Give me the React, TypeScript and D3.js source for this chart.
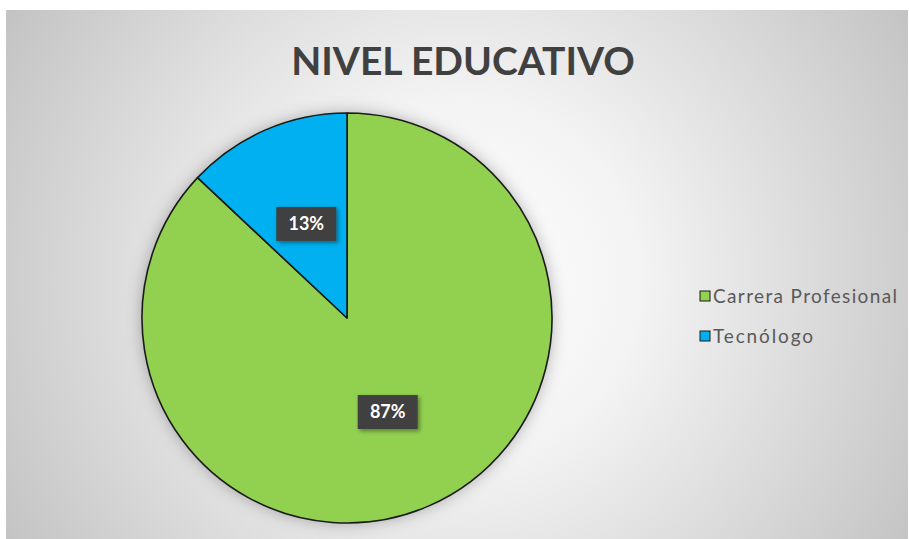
import React, { useEffect, useRef } from 'react';
import * as d3 from 'd3';

const categories = ['Carrera Profesional', 'Tecnólogo'];
const values = [87, 13];
const colors = ['#92D050', '#00B0F0'];
const title = 'NIVEL EDUCATIVO';

const W = 909;
const H = 539;

export default function App() {
    const ref = useRef<SVGSVGElement>(null);

    useEffect(() => {
        const svg = d3.select(ref.current);
        svg.selectAll('*').remove();
        svg.attr('width', W).attr('height', H);

        const defs = svg.append('defs');
        const grad = defs.append('radialGradient')
            .attr('id', 'bg')
            .attr('gradientUnits', 'userSpaceOnUse')
            .attr('cx', 460).attr('cy', 280).attr('r', 520);
        grad.append('stop').attr('offset', '0%').attr('stop-color', '#ffffff');
        grad.append('stop').attr('offset', '35%').attr('stop-color', '#f3f3f3');
        grad.append('stop').attr('offset', '100%').attr('stop-color', '#c4c4c4');

        const shadow = defs.append('filter').attr('id', 'pieShadow')
            .attr('x', '-20%').attr('y', '-20%').attr('width', '140%').attr('height', '140%');
        shadow.append('feDropShadow')
            .attr('dx', 0).attr('dy', 0).attr('stdDeviation', 8)
            .attr('flood-color', '#000').attr('flood-opacity', 0.3);

        const boxShadow = defs.append('filter').attr('id', 'boxShadow')
            .attr('x', '-30%').attr('y', '-30%').attr('width', '160%').attr('height', '160%');
        boxShadow.append('feDropShadow')
            .attr('dx', 2).attr('dy', 2).attr('stdDeviation', 2)
            .attr('flood-color', '#000').attr('flood-opacity', 0.4);

        svg.append('rect').attr('width', W).attr('height', H).attr('fill', '#fff');
        svg.append('rect')
            .attr('x', 6).attr('y', 10)
            .attr('width', 902).attr('height', 540)
            .attr('fill', 'url(#bg)');

        // title
        svg.append('text')
            .attr('x', 463).attr('y', 75)
            .attr('text-anchor', 'middle')
            .style('font-family', 'Lato')
            .style('font-weight', 700)
            .style('font-size', '39px')
            .style('fill', '#404040')
            .text(title);

        const cx = 347, cy = 318, r = 205;
        const data = categories.map((c, i) => ({ name: c, value: values[i], color: colors[i] }));
        const pie = d3.pie<any>().sort(null).value(d => d.value);
        const arc = d3.arc<any>().innerRadius(0).outerRadius(r);
        const arcs = pie(data);

        const g = svg.append('g').attr('transform', `translate(${cx},${cy})`);
        g.append('circle').attr('r', r).attr('fill', '#92D050').attr('filter', 'url(#pieShadow)');
        g.selectAll('path.slice')
            .data(arcs)
            .enter().append('path')
            .attr('class', 'slice')
            .attr('d', arc)
            .attr('fill', d => d.data.color)
            .attr('stroke', '#1b1b1b')
            .attr('stroke-width', 1.6)
            .attr('stroke-linejoin', 'round');

        // data labels at slice centroids
        const total = d3.sum(values);
        const lbl = g.selectAll('g.lbl')
            .data(arcs)
            .enter().append('g')
            .attr('class', 'lbl')
            .attr('transform', d => `translate(${arc.centroid(d)})`);
        lbl.append('rect')
            .attr('x', -30).attr('y', -17)
            .attr('width', 60).attr('height', 34)
            .attr('fill', '#404040')
            .attr('filter', 'url(#boxShadow)');
        lbl.append('text')
            .attr('text-anchor', 'middle')
            .attr('dy', '0.35em')
            .style('font-family', 'Lato')
            .style('font-weight', 700)
            .style('font-size', '18px')
            .style('fill', '#fff')
            .text(d => `${Math.round(d.data.value / total * 100)}%`);

        // legend
        const legend = svg.append('g').attr('transform', 'translate(700,296)');
        const item = legend.selectAll('g')
            .data(data)
            .enter().append('g')
            .attr('transform', (d, i) => `translate(0,${i * 40})`);
        item.append('rect')
            .attr('x', 0).attr('y', -5)
            .attr('width', 10).attr('height', 10)
            .attr('fill', d => d.color)
            .attr('stroke', '#1b1b1b')
            .attr('stroke-width', 1);
        item.append('text')
            .attr('x', 13).attr('dy', '0.35em')
            .attr('textLength', (d, i) => (i === 0 ? 184 : 100))
            .attr('lengthAdjust', 'spacing')
            .style('font-family', 'Lato')
            .style('font-size', '19px')
            .style('fill', '#595959')
            .text(d => d.name);
    }, []);

    return (
        <svg ref={ref} style={{ position: 'absolute', left: 0, top: 0, display: 'block' }} />
    );
}
